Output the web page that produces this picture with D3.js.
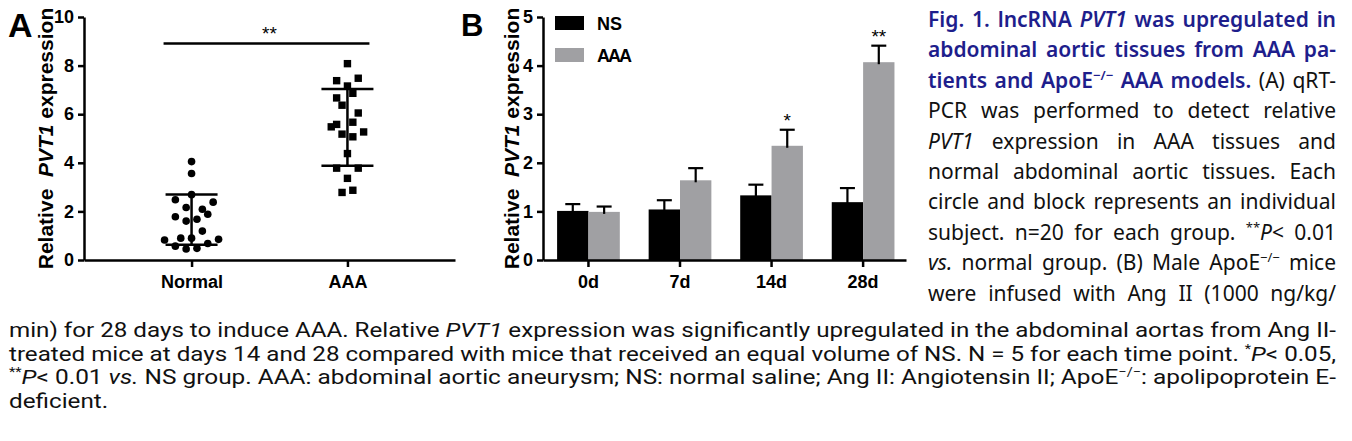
<!DOCTYPE html>
<html><head><meta charset="utf-8">
<script src="https://cdn.jsdelivr.net/npm/d3@7"></script>
<style>body{margin:0;background:#fff} svg{display:block}</style>
</head><body><svg id="c" width="1352" height="441"></svg>
<script>
// ---------- Panel A data ----------
const groupsA = ["Normal", "AAA"];
const normalValues = [4.05, 3.56, 2.69, 2.48, 2.38, 2.16, 2.09, 1.88, 1.78, 1.60, 1.68, 1.19, 0.82, 0.90, 0.90, 0.85, 0.57, 0.45, 0.48, 0.68];
const normalJitter = [0, 0, 0, -3, 4, -1, 2, 3, -3, -1, 1, 2, -5, -2, 0, 5, -3, -1, 1, 3];
const aaaValues = [8.08, 7.38, 7.48, 7.16, 6.86, 6.67, 6.37, 6.05, 5.67, 5.58, 5.48, 5.27, 5.18, 5.07, 4.38, 3.78, 3.78, 3.36, 2.78, 2.87];
const aaaJitter = [0, -2, 2, 0, 1, -2, -1, 2, 1, -2, -3, 3, -1, 1, 0, -2, 2, 0, -1, 1];
const sdLowA = [0.63, 3.88];
const sdHighA = [2.70, 7.04];
const yTicksA = [0, 2, 4, 6, 8, 10];
const sigA = "**";

// ---------- Panel B data ----------
const timePoints = ["0d", "7d", "14d", "28d"];
const seriesB = ["NS", "AAA"];
const nsMeans = [1.01, 1.04, 1.33, 1.19];
const nsErrTop = [1.15, 1.23, 1.55, 1.48];
const aaaMeans = [0.99, 1.64, 2.35, 4.07];
const aaaErrTop = [1.10, 1.89, 2.68, 4.41];
const sigB = ["", "", "*", "**"];
const yTicksB = [0, 1, 2, 3, 4, 5];
const colorsB = ["#000000", "#a0a0a3"];

// ---------- Caption ----------
// style flags: b = blue bold, i = italic, s = superscript
const captionRight = [
  [["Fig. 1. lncRNA ", "b"], ["PVT1", "bi"], [" was upregulated in", "b"]],
  [["abdominal aortic tissues from AAA pa-", "b"]],
  [["tients and ApoE", "b"], ["\u2212/\u2212", "bs"], [" AAA models.", "b"], [" (A) qRT-", ""]],
  [["PCR was performed to detect relative", ""]],
  [["PVT1", "i"], [" expression in AAA tissues and", ""]],
  [["normal abdominal aortic tissues. Each", ""]],
  [["circle and block represents an individual", ""]],
  [["subject. n=20 for each group. ", ""], ["**", "s"], ["P", "i"], ["< 0.01", ""]],
  [["vs.", "i"], [" normal group. (B) Male ApoE", ""], ["\u2212/\u2212", "s"], [" mice", ""]],
  [["were infused with Ang II (1000 ng/kg/", ""]]
];
const captionBottom = [
  [["min) for 28 days to induce AAA. Relative ", ""], ["PVT1", "i"], [" expression was significantly upregulated in the abdominal aortas from Ang II-", ""]],
  [["treated mice at days 14 and 28 compared with mice that received an equal volume of NS. N = 5 for each time point. ", ""], ["*", "s"], ["P", "i"], ["< 0.05,", ""]],
  [["**", "s"], ["P", "i"], ["< 0.01 ", ""], ["vs.", "i"], [" NS group. AAA: abdominal aortic aneurysm; NS: normal saline; Ang II: Angiotensin II; ApoE", ""], ["\u2212/\u2212", "s"], [": apolipoprotein E-", ""]],
  [["deficient.", ""]]
];

const svg = d3.select("#c");
svg.append("rect").attr("width", 1352).attr("height", 441).attr("fill", "#fff");
const F = "'Liberation Sans', Arial, sans-serif";

function styleAxis(g) {
  g.attr("font-family", F).attr("font-size", 18).attr("font-weight", "bold");
  g.select(".domain").attr("stroke-width", 2.5).attr("stroke", "#000");
  g.selectAll(".tick line").attr("stroke-width", 2.5).attr("stroke", "#000");
  g.selectAll(".tick text").attr("fill", "#000");
}
function yTitle(x) {
  svg.append("text").attr("transform", `translate(${x},138.5) rotate(-90)`).attr("text-anchor", "middle")
    .attr("font-family", F).attr("font-size", 21).attr("font-weight", "bold").style("white-space", "pre")
    .call(t => {
      t.append("tspan").text("Relative  ");
      t.append("tspan").attr("font-style", "italic").text("PVT1");
      t.append("tspan").text(" expression");
    });
}

// ================= Panel A =================
const yA = d3.scaleLinear().domain([0, 10]).range([260, 17]);
const xA = d3.scalePoint().domain(groupsA).range([84, 455]).padding(0.69);
const jit = d3.scaleLinear().domain([-5, 5]).range([-27, 27]);

svg.append("g").attr("transform", "translate(84,0)")
  .call(d3.axisLeft(yA).tickValues(yTicksA).tickFormat(d3.format("d")).tickSize(6).tickSizeOuter(0).tickPadding(4))
  .call(styleAxis);
svg.append("g").attr("transform", "translate(0,260)")
  .call(d3.axisBottom(xA).tickSize(7).tickSizeOuter(0).tickPadding(8))
  .call(styleAxis);

const gA = svg.append("g");
gA.selectAll("circle").data(normalValues).join("circle")
  .attr("cx", (d, i) => xA("Normal") + jit(normalJitter[i]))
  .attr("cy", d => yA(d)).attr("r", 3.8).attr("fill", "#000");
gA.selectAll("rect.sq").data(aaaValues).join("rect").attr("class", "sq")
  .attr("x", (d, i) => xA("AAA") + jit(aaaJitter[i]) - 3.7)
  .attr("y", d => yA(d) - 3.7).attr("width", 7.4).attr("height", 7.4).attr("fill", "#000");

groupsA.forEach((g, i) => {
  const cx = xA(g);
  gA.append("line").attr("x1", cx).attr("x2", cx).attr("y1", yA(sdLowA[i])).attr("y2", yA(sdHighA[i]))
    .attr("stroke", "#000").attr("stroke-width", 2.5);
  [sdLowA[i], sdHighA[i]].forEach(v => {
    gA.append("line").attr("x1", cx - 26).attr("x2", cx + 26).attr("y1", yA(v)).attr("y2", yA(v))
      .attr("stroke", "#000").attr("stroke-width", 2.5);
  });
});
gA.append("line").attr("x1", xA("Normal") - 28).attr("x2", xA("AAA") + 22).attr("y1", 43.5).attr("y2", 43.5)
  .attr("stroke", "#000").attr("stroke-width", 2.5);
gA.append("text").attr("x", (xA("Normal") + xA("AAA")) / 2).attr("y", 40)
  .attr("text-anchor", "middle").attr("font-family", F).attr("font-size", 19).text(sigA);

yTitle(53);
svg.append("text").attr("x", 8).attr("y", 37).attr("font-family", F).attr("font-size", 34).attr("font-weight", "bold").text("A");

// ================= Panel B =================
const yB = d3.scaleLinear().domain([0, 5]).range([260, 17]);
const xB = d3.scaleBand().domain(timePoints).range([543, 906]).paddingInner(0.315).paddingOuter(0.14).align(0.55);
const xInner = d3.scaleBand().domain(seriesB).range([0, xB.bandwidth()]).padding(0);

const gB = svg.append("g");
const barData = [];
timePoints.forEach((t, i) => {
  barData.push({ t, s: "NS", v: nsMeans[i], e: nsErrTop[i] });
  barData.push({ t, s: "AAA", v: aaaMeans[i], e: aaaErrTop[i], sig: sigB[i] });
});
gB.selectAll("rect.bar").data(barData).join("rect").attr("class", "bar")
  .attr("x", d => xB(d.t) + xInner(d.s)).attr("width", xInner.bandwidth())
  .attr("y", d => yB(d.v)).attr("height", d => yB(0) - yB(d.v))
  .attr("fill", d => colorsB[seriesB.indexOf(d.s)]);
barData.forEach(d => {
  const cx = xB(d.t) + xInner(d.s) + xInner.bandwidth() / 2;
  gB.append("line").attr("x1", cx).attr("x2", cx).attr("y1", yB(d.v) + 2).attr("y2", yB(d.e))
    .attr("stroke", "#000").attr("stroke-width", 2.2);
  gB.append("line").attr("x1", cx - 7.5).attr("x2", cx + 7.5).attr("y1", yB(d.e)).attr("y2", yB(d.e))
    .attr("stroke", "#000").attr("stroke-width", 2.2);
  if (d.sig) {
    gB.append("text").attr("x", cx).attr("y", yB(d.e) - 2.5).attr("text-anchor", "middle")
      .attr("font-family", F).attr("font-size", 19).text(d.sig);
  }
});

svg.append("g").attr("transform", "translate(543,0)")
  .call(d3.axisLeft(yB).tickValues(yTicksB).tickFormat(d3.format("d")).tickSize(6).tickSizeOuter(0).tickPadding(4))
  .call(styleAxis);
svg.append("g").attr("transform", "translate(0,260)")
  .call(d3.axisBottom(xB).tickSize(7).tickSizeOuter(0).tickPadding(8))
  .call(styleAxis);

seriesB.forEach((s, i) => {
  const y0 = i === 0 ? 16 : 48;
  svg.append("rect").attr("x", 555).attr("y", y0).attr("width", 29).attr("height", 14).attr("fill", colorsB[i]);
  svg.append("text").attr("x", 597).attr("y", y0 + 13.5).attr("font-family", F).attr("font-size", 18)
    .attr("font-weight", "bold").attr("letter-spacing", s === "AAA" ? -2 : 0).text(s);
});

yTitle(519);
svg.append("text").attr("x", 461).attr("y", 36).attr("font-family", F).attr("font-size", 31).attr("font-weight", "bold").text("B");

// ================= Caption =================
const blue = "#1e1e8c";
let stretchRatios = [];
function capLine(segs, x0, x1, y, mode, font, size) {
  const t = svg.append("text").attr("x", x0).attr("y", y).attr("font-family", font).attr("font-size", size)
    .attr("fill", "#111").style("white-space", "pre");
  let raised = false;
  segs.forEach(([txt, st]) => {
    const ts = t.append("tspan").text(txt);
    if (st.includes("b")) ts.attr("fill", blue).attr("font-weight", 600);
    if (st.includes("i")) ts.attr("font-style", "italic");
    if (st.includes("s")) {
      ts.attr("font-size", Math.round(size * 0.6)).attr("dy", raised ? 0 : -8);
      raised = true;
    } else if (raised) {
      ts.attr("dy", 8);
      raised = false;
    }
  });
  const nat = t.node().getComputedTextLength();
  if (mode === "words") {
    const full = segs.map(s => s[0]).join("");
    const nSp = (full.match(/ /g) || []).length;
    if (nSp > 0) t.attr("word-spacing", (x1 - x0 - nat) / nSp);
  } else if (mode === "stretch") {
    stretchRatios.push((x1 - x0) / nat);
    t.attr("textLength", x1 - x0).attr("lengthAdjust", "spacingAndGlyphs");
  } else if (mode === "last" && stretchRatios.length) {
    t.attr("textLength", nat * d3.mean(stretchRatios)).attr("lengthAdjust", "spacingAndGlyphs");
  }
}
const rightFont = "'Noto Sans', sans-serif";
const bottomFont = "Roboto, 'Noto Sans', sans-serif";
captionRight.forEach((segs, i) => capLine(segs, 928, 1336, 27 + i * 30.4, "words", rightFont, 21));
captionBottom.forEach((segs, i) => capLine(segs, 9, 1336, 337 + i * 23.6, i < captionBottom.length - 1 ? "stretch" : "last", bottomFont, 20));
</script></body></html>
